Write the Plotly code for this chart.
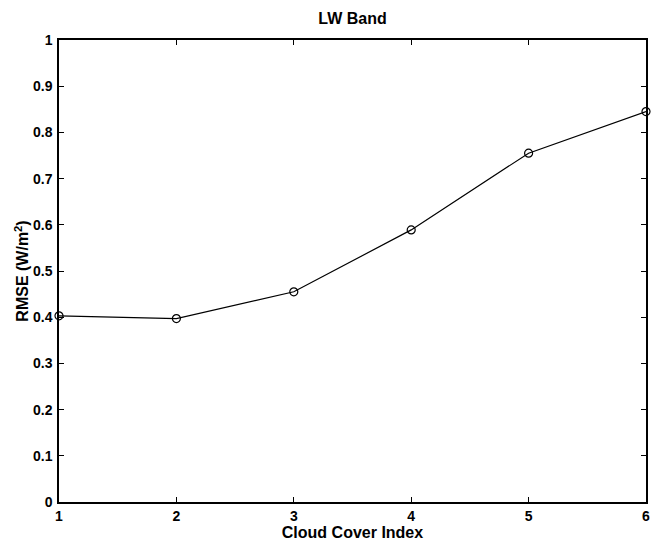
import plotly.graph_objects as go

# Cloud cover index vs. RMSE for the longwave band
cloud_index = [1, 2, 3, 4, 5, 6]
rmse = [0.403, 0.397, 0.455, 0.589, 0.755, 0.845]

x_ticks = [1, 2, 3, 4, 5, 6]
y_ticks = [0, 0.1, 0.2, 0.3, 0.4, 0.5, 0.6, 0.7, 0.8, 0.9, 1]
y_tick_text = ["0", "0.1", "0.2", "0.3", "0.4", "0.5", "0.6", "0.7", "0.8", "0.9", "1"]

font_family = "Liberation Sans, Arial, Helvetica, sans-serif"

fig = go.Figure(
    go.Scatter(
        x=cloud_index,
        y=rmse,
        mode="lines+markers",
        line=dict(color="black", width=1.2),
        marker=dict(symbol="circle-open", size=8, color="black", line=dict(width=1.2)),
        showlegend=False,
        cliponaxis=False,
    )
)

axis_common = dict(
    showline=True,
    linecolor="black",
    linewidth=1.5,
    mirror="allticks",
    ticks="inside",
    ticklen=5,
    tickwidth=1,
    tickcolor="black",
    showgrid=False,
    zeroline=False,
    automargin=False,
    tickfont=dict(family=font_family, size=14, color="black", weight="bold"),
)

fig.update_xaxes(
    range=[1, 6],
    tickvals=x_ticks,
    ticklabelstandoff=0,
    title=dict(text="<b>Cloud Cover Index</b>", font=dict(family=font_family, size=16, color="black"), standoff=0),
    **axis_common,
)
fig.update_yaxes(
    range=[0, 1],
    tickvals=y_ticks,
    ticktext=y_tick_text,
    ticklabelstandoff=2,
    title=dict(text="<b>RMSE (W/m<sup>2</sup>)</b>", font=dict(family=font_family, size=16, color="black"), standoff=0),
    **axis_common,
)

fig.update_layout(
    width=657,
    height=542,
    margin=dict(l=59, r=11, t=40, b=40),
    paper_bgcolor="white",
    plot_bgcolor="white",
    title=dict(
        text="<b>LW Band</b>",
        x=(59 + 646) / 2 / 657,
        xanchor="center",
        y=1 - 18 / 542,
        yanchor="middle",
        font=dict(family=font_family, size=16, color="black"),
    ),
)

fig.write_html("out.html")
